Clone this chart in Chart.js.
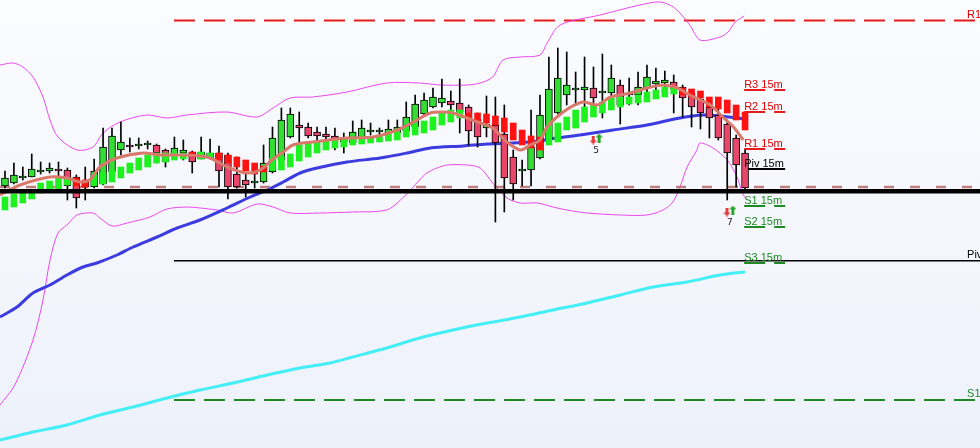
<!DOCTYPE html>
<html>
<head>
<meta charset="utf-8">
<script src="https://cdn.jsdelivr.net/npm/chart.js@4.4.1/dist/chart.umd.min.js"></script>
<style>
  html, body { margin: 0; padding: 0; }
  #wrap { width: 980px; height: 448px; background: linear-gradient(#fbfcff, #edf1fa); }
</style>
</head>
<body>
<div id="wrap"><canvas id="chart"></canvas></div>
<script>
// candles (price in points), one per bar index
const open  = [262,265,270,271,276,277,278,278,271,267,261,264,276,298,303,302,303,303,298,293,295,296,289,290,295,293,274,268,265,266,276,288,311,323,321,316,314,312,310,305,310,316,316,315,315,317,321,334,341,345,347,345,341,329,320,323,314,291,277,278,290,308,335,353,358,358,360,355,355,363,354,353,360,364,365,366,361,355,349,341,333,324,310,295];
const high  = [277,285,281,294,286,285,286,280,273,281,289,320,320,326,310,310,307,304,299,311,308,297,311,309,302,295,291,275,275,303,321,340,340,336,325,321,321,320,315,327,328,325,320,328,328,346,353,355,360,369,357,369,343,335,352,351,343,298,288,338,353,391,400,396,376,391,381,394,383,368,370,376,383,380,377,373,363,358,351,348,340,328,313,298];
const low   = [260,264,268,271,274,275,271,248,240,248,260,263,274,293,296,299,299,285,281,290,288,275,289,289,261,249,260,251,260,265,275,286,310,306,310,308,305,298,295,304,305,313,311,308,310,316,320,333,340,341,336,315,303,301,311,226,236,248,262,262,289,307,334,343,345,341,335,330,348,324,343,343,348,351,359,335,331,321,319,310,308,248,261,258];
const close = [270,273,272,279,278,280,277,262,250,261,277,301,312,306,301,304,303,295,286,300,298,286,296,295,277,261,261,263,267,285,310,328,334,320,312,312,311,309,306,316,320,316,316,319,321,331,344,348,351,350,343,336,317,311,324,305,270,264,277,301,333,359,370,363,358,361,350,355,370,343,353,361,371,367,368,359,350,341,335,330,310,295,283,260];

// trend blocks
const blockLo = [238,241,245,249,255,258,259,263,262,261,263,264,266,270,275,278,281,285,286,288,289,291,289,290,288,285,281,277,274,276,278,278,281,287,291,295,298,300,301,303,304,305,306,307,308,311,313,315,318,323,326,330,329,326,325,323,316,308,303,300,298,303,306,318,320,326,331,335,338,341,344,345,346,349,351,354,353,351,350,341,339,335,328,318];
const blockHi = [251,254,255,258,265,267,270,270,270,268,273,275,278,281,285,290,293,295,295,295,295,296,296,295,295,293,291,288,285,282,290,291,294,303,305,306,307,308,309,310,311,311,313,315,316,321,323,327,331,335,338,338,335,335,334,332,330,325,318,312,311,323,325,331,338,341,343,346,350,351,351,353,356,358,361,361,360,359,357,351,351,348,343,336];
const blockTrend = [1,1,1,1,1,1,1,1,-1,-1,1,1,1,1,1,1,1,1,1,1,1,-1,1,1,-1,-1,-1,-1,-1,-1,1,1,1,1,1,1,1,1,1,1,1,1,1,1,1,1,1,1,1,1,1,1,-1,-1,-1,-1,-1,-1,-1,-1,-1,1,1,1,1,1,1,1,1,1,1,1,1,1,1,1,-1,-1,-1,-1,-1,-1,-1,-1];

// indicator lines, read at bar positions
const emaX = [-0.56,1.7,5.05,6.95,8.4,9.5,10.65,12.56,15.5,17.4,20,22.7,24.9,27.1,28.6,30.06,31.2,32.3,34.5,38.36,41.3,44,45.8,47.7,49.1,50.25,51.8,53.3,54.7,56.3,57.8,58.9,60,60.8,62.6,64.8,66.4,67.9,70.1,72,73.8,75.4,76.8,79.1,80.5,81.7,82.8];
const emaY = [253,263,271,270,266,268,281,290,295,293,293,291,281,275,278,289,296,303,306,310,311,318,326,335,336,335,330,325,320,306,298,303,308,321,336,346,343,351,355,360,363,360,353,343,331,321,308];

const maX = [-0.56,1.35,3.14,5.05,6.95,8.75,10.3,12.56,14.36,17.05,19.3,21.87,24.9,27.5,29.4,31.2,33.1,35,38.36,42.06,45.1,47.7,51.4,54.06,57,60,61.1,64.5,68.2,72,75.7,78.3,80.2,82.9];
const maY = [131,141,155,163,173,181,185,193,201,211,220,228,240,251,258,266,275,280,286,290,295,300,302,304,305,307,309,313,318,323,330,333,332,329];

const slowX = [-0.56,3.14,6.95,10.65,14.36,18.17,21.87,25.6,29.4,33.1,36.45,39,42.8,46.5,50.25,54.06,57.8,61.46,65.3,69,72.7,76.5,80.2,83];
const slowY = [8,16,23,33,41,50,58,65,73,80,85,91,100,110,118,125,131,138,145,153,161,166,173,176];

const upX = [-0.56,0.9,2.0,3.14,4.26,5.05,5.94,8.08,9.87,11,12.9,15.9,18.17,20.4,24.9,28.26,30.06,31.97,34.5,38.36,42.8,46.5,48.8,51.8,53.3,54.7,55.85,57.8,60,60.8,62.25,66.74,71.2,73.5,75.1,76.8,77.95,80.2,81.1,81.9,82.9];
const upY = [383,385,381,371,351,328,311,298,301,315,326,333,330,333,336,331,340,350,351,356,365,365,363,363,365,371,388,391,393,405,423,433,443,446,440,423,408,411,416,426,432];

const loX = [-0.56,1.1,3.14,4.26,5.05,5.94,6.95,8.08,9.87,10.65,12,13.7,16.26,18.17,20.4,21.87,23.8,25.6,28.26,30.06,31.97,35.3,39,42.8,44.6,46.5,47.3,48.45,49.6,51.8,53.3,54.7,56.3,57.8,59.7,61.46,63,65.3,69,72,73.8,74.9,75.7,76.5,77.6,77.95,79.4,81,82.1,82.7,83.2];
const loY = [43,63,108,148,188,215,223,233,235,230,222,225,231,239,241,240,238,235,244,241,235,235,236,238,250,268,275,280,283,283,280,265,250,245,245,241,238,235,233,233,238,246,261,281,298,305,300,288,271,255,248];

// pivot levels
const dailyNames  = ['R1', 'Piv', 'S1'];
const dailyLevels = [427.5, 187.3, 48];
const m15Names  = ['R3 15m', 'R2 15m', 'R1 15m', 'Piv 15m', 'S1 15m', 'S2 15m', 'S3 15m'];
const m15Levels = [358, 336, 299, 279, 242, 221, 185];
const supportLevel = 256.7;
const prevCloseLevel = 261;

// signal markers
const markerX = [66.3, 81.3];
const markerY = [309, 237];
const markerText = ['5', '7'];

const X_MIN = -0.56, X_MAX = 109.35;
const DAILY_FROM = 18.95, M15_FROM = 82.9, M15_TO = 87.5, DAILY_LABEL_AT = 107.9;

const RED = '#e41c1c', GREEN = '#1f8a24', BLACK = '#000';
function levelColor(name) {
  if (name.startsWith('R')) return RED;
  if (name.startsWith('S')) return GREEN;
  return BLACK;
}

function pts(xs, ys) { return xs.map((x, i) => ({ x: x, y: ys[i] })); }
function hline(x0, x1, v) { return [{ x: x0, y: v }, { x: x1, y: v }]; }

function arrowIcon(color, up) {
  const c = document.createElement('canvas');
  c.width = 7; c.height = 9;
  const g = c.getContext('2d');
  g.fillStyle = color;
  g.beginPath();
  if (up) {
    g.moveTo(3.5, 0); g.lineTo(7, 4); g.lineTo(5, 4); g.lineTo(5, 9); g.lineTo(2, 9); g.lineTo(2, 4); g.lineTo(0, 4);
  } else {
    g.moveTo(3.5, 9); g.lineTo(7, 5); g.lineTo(5, 5); g.lineTo(5, 0); g.lineTo(2, 0); g.lineTo(2, 5); g.lineTo(0, 5);
  }
  g.closePath();
  g.fill();
  return c;
}

const lineBase = { type: 'line', pointRadius: 0, fill: false, tension: 0.3 };

const datasets = [
  // thick support line on top
  Object.assign({}, lineBase, { data: hline(X_MIN, X_MAX, supportLevel), borderColor: BLACK, borderWidth: 4.5, tension: 0, order: 1 }),
  Object.assign({}, lineBase, { data: pts(emaX, emaY), borderColor: '#d9796c', borderWidth: 3, order: 2 }),
  {
    type: 'bar', order: 3, grouped: false, barThickness: 6,
    data: blockLo.map((v, i) => ({ x: i, y: [v, blockHi[i]] })),
    backgroundColor: blockTrend.map(t => t > 0 ? '#1ff01f' : '#ff1212'),
    borderWidth: 0
  },
  {
    type: 'bar', order: 4, grouped: false, barThickness: 7, minBarLength: 2,
    data: open.map((v, i) => ({ x: i, y: [v, close[i]] })),
    backgroundColor: open.map((v, i) => close[i] >= v ? '#33dd33' : '#e8466a'),
    borderColor: BLACK, borderWidth: 1, borderSkipped: false
  },
  {
    type: 'bar', order: 5, grouped: false, barThickness: 1,
    data: low.map((v, i) => ({ x: i, y: [v, high[i]] })),
    backgroundColor: BLACK, borderWidth: 0
  },
  Object.assign({}, lineBase, { data: hline(X_MIN, X_MAX, prevCloseLevel), borderColor: '#bf7f7f', borderWidth: 2.5, borderDash: [10, 16], tension: 0, order: 6 }),
  Object.assign({}, lineBase, { data: pts(maX, maY), borderColor: '#3b3be0', borderWidth: 3, order: 7 }),
  Object.assign({}, lineBase, { data: pts(slowX, slowY), borderColor: '#44eef6', borderWidth: 3, order: 7 }),
  Object.assign({}, lineBase, { data: pts(upX, upY), borderColor: '#ec48ec', borderWidth: 1, order: 8 }),
  Object.assign({}, lineBase, { data: pts(loX, loY), borderColor: '#ec48ec', borderWidth: 1, order: 8 }),
  {
    type: 'scatter', order: 1,
    data: markerX.map((x, i) => ({ x: x - 0.33, y: markerY[i] - 1 })),
    pointStyle: arrowIcon('#e53b3b', false), pointRadius: 4
  },
  {
    type: 'scatter', order: 1,
    data: markerX.map((x, i) => ({ x: x + 0.33, y: markerY[i] + 1 })),
    pointStyle: arrowIcon('#25a525', true), pointRadius: 4
  }
];

dailyNames.forEach((n, i) => {
  const c = levelColor(n);
  datasets.push(Object.assign({}, lineBase, {
    data: hline(DAILY_FROM, X_MAX, dailyLevels[i]), borderColor: c, tension: 0, order: 9,
    borderWidth: n === 'Piv' ? 1.5 : 2, borderDash: n === 'Piv' ? [] : [21, 9]
  }));
});
m15Names.forEach((n, i) => {
  const c = levelColor(n);
  datasets.push(Object.assign({}, lineBase, {
    data: hline(M15_FROM, M15_TO, m15Levels[i]), borderColor: c, tension: 0, order: 9,
    borderWidth: 2, borderDash: c === BLACK ? [] : [21, 9]
  }));
});

const labelPlugin = {
  id: 'levelLabels',
  afterDatasetsDraw(chart) {
    const { ctx, scales: { x, y } } = chart;
    ctx.save();
    ctx.font = '11px "Liberation Sans", Arial, sans-serif';
    ctx.textAlign = 'left';
    ctx.textBaseline = 'alphabetic';
    m15Names.forEach((n, i) => {
      ctx.fillStyle = levelColor(n) === RED ? '#e00000' : levelColor(n);
      ctx.fillText(n, x.getPixelForValue(M15_FROM), y.getPixelForValue(m15Levels[i]) - 2);
    });
    dailyNames.forEach((n, i) => {
      ctx.fillStyle = levelColor(n) === RED ? '#e00000' : levelColor(n);
      ctx.fillText(n, x.getPixelForValue(DAILY_LABEL_AT), y.getPixelForValue(dailyLevels[i]) - 3);
    });
    ctx.font = '9px "DejaVu Sans", sans-serif';
    ctx.textAlign = 'center';
    ctx.fillStyle = '#222';
    markerText.forEach((t, i) => {
      ctx.fillText(t, x.getPixelForValue(markerX[i]), y.getPixelForValue(markerY[i]) + 14);
    });
    ctx.restore();
  }
};

new Chart(document.getElementById('chart'), {
  type: 'line',
  data: { datasets: datasets },
  options: {
    responsive: true,
    maintainAspectRatio: false,
    animation: false,
    layout: { padding: 0, autoPadding: false },
    plugins: { legend: { display: false }, tooltip: { enabled: false } },
    scales: {
      x: { type: 'linear', min: X_MIN, max: X_MAX, offset: false, display: false },
      y: { type: 'linear', min: 0, max: 448, display: false }
    }
  },
  plugins: [labelPlugin]
});
</script>
</body>
</html>
